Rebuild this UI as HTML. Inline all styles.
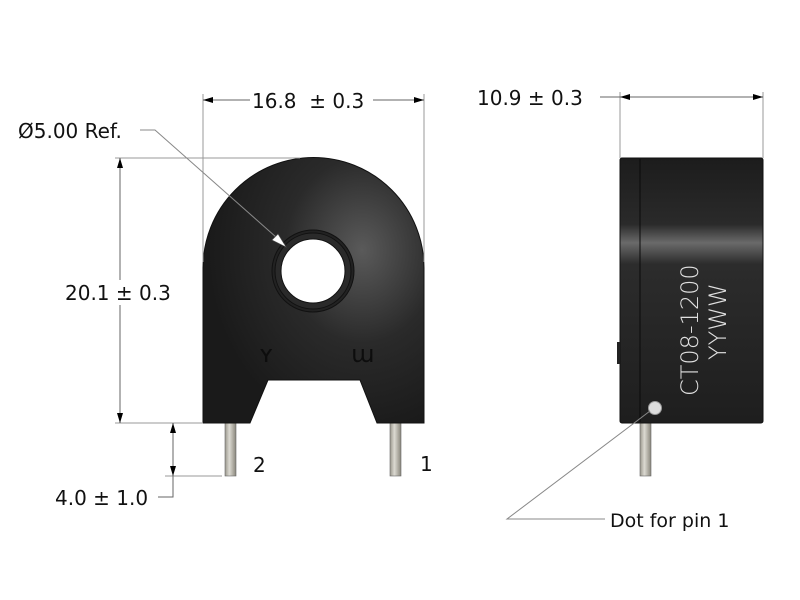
<!DOCTYPE html>
<html><head><meta charset="utf-8"><style>
html,body{margin:0;padding:0;background:#fff;}
svg{display:block;}
text{font-family:"DejaVu Sans","Liberation Sans",sans-serif;fill:#111;}
</style></head><body>
<svg width="800" height="600" viewBox="0 0 800 600" xmlns="http://www.w3.org/2000/svg">
<defs>
<radialGradient id="g1" cx="0.72" cy="0.35" r="0.7">
<stop offset="0" stop-color="#5a5a5a"/><stop offset="0.5" stop-color="#2a2a2a"/><stop offset="1" stop-color="#1a1a1a"/>
</radialGradient>
<linearGradient id="g2" x1="0" y1="0" x2="0" y2="1">
<stop offset="0" stop-color="#1c1c1c"/><stop offset="0.25" stop-color="#2a2a2a"/><stop offset="0.32" stop-color="#6a6a6a"/><stop offset="0.4" stop-color="#2c2c2c"/><stop offset="1" stop-color="#1e1e1e"/>
</linearGradient>
<linearGradient id="pin" x1="0" x2="1">
<stop offset="0" stop-color="#9a978c"/><stop offset="0.4" stop-color="#dcdad2"/><stop offset="1" stop-color="#8a877c"/>
</linearGradient>
<marker id="ar" viewBox="0 0 10 6" refX="10" refY="3" markerWidth="10" markerHeight="6" markerUnits="userSpaceOnUse" orient="auto-start-reverse"><path d="M0,0 L10,3 L0,6 z" fill="#000"/></marker>
</defs>

<rect x="225" y="420" width="11" height="56" fill="url(#pin)" stroke="#666" stroke-width="0.6"/>
<rect x="390" y="420" width="11" height="56" fill="url(#pin)" stroke="#666" stroke-width="0.6"/>
<path d="M203,423 L203,268 A110,110 0 0 1 424,268 L424,423 L377,423 L360,380 L268,380 L250,423 Z" fill="url(#g1)" stroke="#111" stroke-width="1"/>
<circle cx="313" cy="271" r="41" fill="#222" stroke="#111"/>
<circle cx="313" cy="271" r="38" fill="#2a2a2a" stroke="#111"/>
<circle cx="313" cy="271" r="32" fill="#fff" stroke="#111"/>
<text x="259" y="362" font-size="24" style="fill:#0d0d0d">ʏ</text>
<text x="351" y="362" font-size="24" style="fill:#0d0d0d">ɯ</text>

<rect x="640" y="420" width="11" height="56" fill="url(#pin)" stroke="#666" stroke-width="0.6"/>
<rect x="620" y="158" width="143" height="265" rx="2" fill="url(#g2)" stroke="#111"/>
<line x1="640" y1="159" x2="640" y2="422" stroke="#0a0a0a" stroke-width="1"/>
<rect x="617" y="342" width="3" height="22" fill="#222"/>
<circle cx="655" cy="408" r="6.5" fill="#ddd" stroke="#999"/>
<text transform="translate(698,396) rotate(-90)" font-size="24" style="fill:#e0e0e0;font-weight:300">CT08-1200</text>
<text transform="translate(726,360) rotate(-90)" font-size="24" style="fill:#e0e0e0;font-weight:300">YYWW</text>

<g stroke="#999" stroke-width="1" fill="none">
<line x1="203" y1="94" x2="203" y2="262"/>
<line x1="424" y1="94" x2="424" y2="262"/>
<line x1="115" y1="158" x2="300" y2="158"/>
<line x1="115" y1="423" x2="203" y2="423"/>
<line x1="165" y1="476" x2="222" y2="476"/>
<line x1="620" y1="92" x2="620" y2="158"/>
<line x1="763" y1="92" x2="763" y2="158"/>
</g>
<g stroke="#666" stroke-width="1" fill="none">
<line x1="203" y1="100" x2="250" y2="100" marker-start="url(#ar)"/>
<line x1="373" y1="100" x2="424" y2="100" marker-end="url(#ar)"/>
<line x1="120" y1="158" x2="120" y2="280" marker-start="url(#ar)"/>
<line x1="120" y1="305" x2="120" y2="423" marker-end="url(#ar)"/>
<line x1="173" y1="423" x2="173" y2="476" marker-start="url(#ar)" marker-end="url(#ar)"/>
<polyline points="173,476 173,497 158,497"/>
<line x1="600" y1="97" x2="620" y2="97"/>
<line x1="620" y1="97" x2="763" y2="97" marker-start="url(#ar)" marker-end="url(#ar)"/>
<polyline points="140,130 155,130 285,245" stroke="#888"/>
<polyline points="605,519 507,519 650,411" stroke="#888"/>
</g>
<path d="M286,247 L272,240 L278,234 Z" fill="#fff" stroke="#555" stroke-width="0.6"/>

<text x="252" y="108" font-size="20" xml:space="preserve">16.8  ± 0.3</text>
<text x="18" y="138" font-size="20">Ø5.00 Ref.</text>
<text x="65" y="300" font-size="20">20.1 ± 0.3</text>
<text x="55" y="505" font-size="20">4.0 ± 1.0</text>
<text x="253" y="472" font-size="20">2</text>
<text x="420" y="471" font-size="20">1</text>
<text x="477" y="105" font-size="20">10.9 ± 0.3</text>
<text x="610" y="527" font-size="19">Dot for pin 1</text>
</svg>
</body></html>
